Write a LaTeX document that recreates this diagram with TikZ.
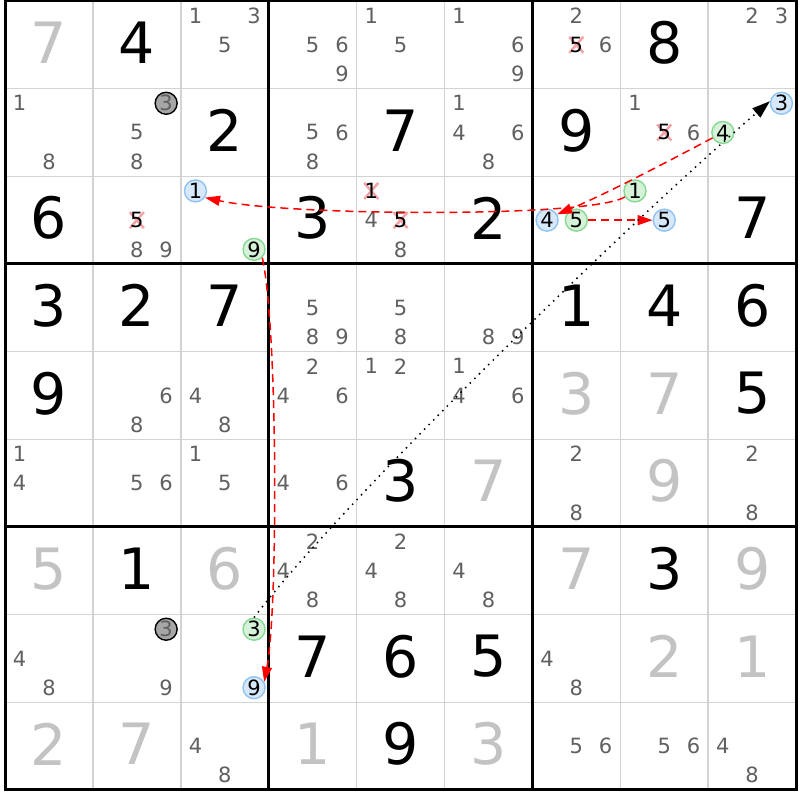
\documentclass[tikz,border=0pt]{standalone}
\usepackage{fontspec}
\setmainfont{DejaVu Sans}
\usetikzlibrary{arrows.meta}
\definecolor{candgray}{HTML}{606060}
\definecolor{solvedgray}{HTML}{C3C3C3}
\definecolor{gridgray}{HTML}{D3D3D3}
\definecolor{bluefill}{HTML}{D6E8FA}
\definecolor{blueline}{HTML}{8FC3F2}
\definecolor{greenfill}{HTML}{D6F2D8}
\definecolor{greenline}{HTML}{86D993}
\definecolor{crosspink}{HTML}{F2A3A8}
\definecolor{circgray}{HTML}{A6A6A6}

\newcommand\candpos[3]{%
  \pgfmathsetmacro\px{5+87.9*(#2-1)+14.65*(2*mod(#3-1,3)+1)}%
  \pgfmathsetmacro\py{1+87.66*(#1-1)+14.61*(2*floor((#3-1)/3)+1)}}
\newcommand\cands[3]{\foreach \d in {#3}{\candpos{#1}{#2}{\d}\node[cand] (n#1#2\d) at (\px,\py) {\d};}}
\newcommand\strk[3]{\candpos{#1}{#2}{#3}%
  \draw[crossx] (\px-7,\py-8) -- (\px+7,\py+8) (\px-7,\py+8) -- (\px+7,\py-8);
  \node[cand,text=black] (n#1#2#3) at (\px,\py) {#3};}
\newcommand\ringed[5]{\candpos{#2}{#3}{#4}\node[#1] (#5) at (\px,\py) {#4};}
\newcommand\given[4]{\node[bigd,text=#4] (v#1#2) at ({5+87.9*(#2-0.5)},{1+87.66*(#1-0.5)-2}) {#3};}

\begin{document}
\begin{tikzpicture}[x=1pt,y=-1pt,
  cand/.style={inner sep=0pt, font=\fontsize{21}{21}\selectfont, text=candgray},
  bigd/.style={inner sep=0pt, font=\fontsize{57}{57}\selectfont},
  ring/.style={circle, inner sep=0pt, minimum size=22pt, line width=1.4pt, font=\fontsize{21}{21}\selectfont, text=black},
  bluering/.style={ring, fill=bluefill, draw=blueline},
  greenring/.style={ring, fill=greenfill, draw=greenline},
  grayring/.style={ring, fill=circgray, draw=black, text=candgray},
  crossx/.style={draw=crosspink, line width=2.5pt},
  redlink/.style={draw=red, line width=1.5pt, dash pattern=on 8pt off 5pt, -{Triangle[length=15pt,width=10pt]}},
  dotlink/.style={draw=black, line width=1.5pt, dash pattern=on 1.5pt off 5pt, -{Triangle[length=18pt,width=12pt]}},
  gridthin/.style={draw=gridgray, line width=1.5pt},
  gridthick/.style={draw=black, line width=3pt}]
\useasboundingbox (0,0) rectangle (800,800);
\fill[white] (0,0) rectangle (800,800);
% grid
\foreach \i in {1,2,4,5,7,8} {
  \draw[gridthin] ({5+87.9*\i},1) -- ({5+87.9*\i},789.9);
  \draw[gridthin] (5,{1+87.66*\i}) -- (796.1,{1+87.66*\i});
}
\foreach \i in {3,6} {
  \draw[gridthick] ({5+87.9*\i},1) -- ({5+87.9*\i},789.9);
  \draw[gridthick] (5,{1+87.66*\i}) -- (796.1,{1+87.66*\i});
}
\draw[gridthick] (5,1) rectangle (796.1,789.9);

% row 1
\given{1}{1}{7}{solvedgray}
\given{1}{2}{4}{black}
\cands{1}{3}{1,3,5}
\cands{1}{4}{5,6,9}
\cands{1}{5}{1,5}
\cands{1}{6}{1,6,9}
\cands{1}{7}{2,6}
\strk{1}{7}{5}
\given{1}{8}{8}{black}
\cands{1}{9}{2,3}
% row 2
\cands{2}{1}{1,8}
\ringed{grayring}{2}{2}{3}{q3r2c2}
\cands{2}{2}{5,8}
\given{2}{3}{2}{black}
\cands{2}{4}{5,6,8}
\given{2}{5}{7}{black}
\cands{2}{6}{1,4,6,8}
\given{2}{7}{9}{black}
\cands{2}{8}{1,6}
\strk{2}{8}{5}
\ringed{greenring}{2}{9}{4}{g4r2c9}
\ringed{bluering}{2}{9}{3}{b3r2c9}
% row 3
\given{3}{1}{6}{black}
\strk{3}{2}{5}
\cands{3}{2}{8,9}
\ringed{bluering}{3}{3}{1}{b1r3c3}
\ringed{greenring}{3}{3}{9}{g9r3c3}
\given{3}{4}{3}{black}
\strk{3}{5}{1}
\strk{3}{5}{5}
\cands{3}{5}{4,8}
\given{3}{6}{2}{black}
\ringed{bluering}{3}{7}{4}{b4r3c7}
\ringed{greenring}{3}{7}{5}{g5r3c7}
\ringed{greenring}{3}{8}{1}{g1r3c8}
\ringed{bluering}{3}{8}{5}{b5r3c8}
\given{3}{9}{7}{black}
% row 4
\given{4}{1}{3}{black}
\given{4}{2}{2}{black}
\given{4}{3}{7}{black}
\cands{4}{4}{5,8,9}
\cands{4}{5}{5,8}
\cands{4}{6}{8,9}
\given{4}{7}{1}{black}
\given{4}{8}{4}{black}
\given{4}{9}{6}{black}
% row 5
\given{5}{1}{9}{black}
\cands{5}{2}{6,8}
\cands{5}{3}{4,8}
\cands{5}{4}{2,4,6}
\cands{5}{5}{1,2}
\cands{5}{6}{1,4,6}
\given{5}{7}{3}{solvedgray}
\given{5}{8}{7}{solvedgray}
\given{5}{9}{5}{black}
% row 6
\cands{6}{1}{1,4}
\cands{6}{2}{5,6}
\cands{6}{3}{1,5}
\cands{6}{4}{4,6}
\given{6}{5}{3}{black}
\given{6}{6}{7}{solvedgray}
\cands{6}{7}{2,8}
\given{6}{8}{9}{solvedgray}
\cands{6}{9}{2,8}
% row 7
\given{7}{1}{5}{solvedgray}
\given{7}{2}{1}{black}
\given{7}{3}{6}{solvedgray}
\cands{7}{4}{2,4,8}
\cands{7}{5}{2,4,8}
\cands{7}{6}{4,8}
\given{7}{7}{7}{solvedgray}
\given{7}{8}{3}{black}
\given{7}{9}{9}{solvedgray}
% row 8
\cands{8}{1}{4,8}
\ringed{grayring}{8}{2}{3}{q3r8c2}
\cands{8}{2}{9}
\ringed{greenring}{8}{3}{3}{g3r8c3}
\ringed{bluering}{8}{3}{9}{b9r8c3}
\given{8}{4}{7}{black}
\given{8}{5}{6}{black}
\given{8}{6}{5}{black}
\cands{8}{7}{4,8}
\given{8}{8}{2}{solvedgray}
\given{8}{9}{1}{solvedgray}
% row 9
\given{9}{1}{2}{solvedgray}
\given{9}{2}{7}{solvedgray}
\cands{9}{3}{4,8}
\given{9}{4}{1}{solvedgray}
\given{9}{5}{9}{black}
\given{9}{6}{3}{solvedgray}
\cands{9}{7}{5,6}
\cands{9}{8}{5,6}
\cands{9}{9}{4,8}

% links
\draw[redlink] (g4r2c9) .. controls (665,163) and (606,194) .. (b4r3c7.30);
\draw[redlink] (g5r3c7) -- (b5r3c8);
\draw[redlink] (g1r3c8) .. controls (590,218) and (290,216) .. (b1r3c3.-35);
\draw[redlink] (g9r3c3.-45) .. controls (278,330) and (278,610) .. (b9r8c3.30);
\draw[dotlink] (g3r8c3.north) .. controls (335,510) and (615,235) .. (b3r2c9.170);
\end{tikzpicture}
\end{document}
